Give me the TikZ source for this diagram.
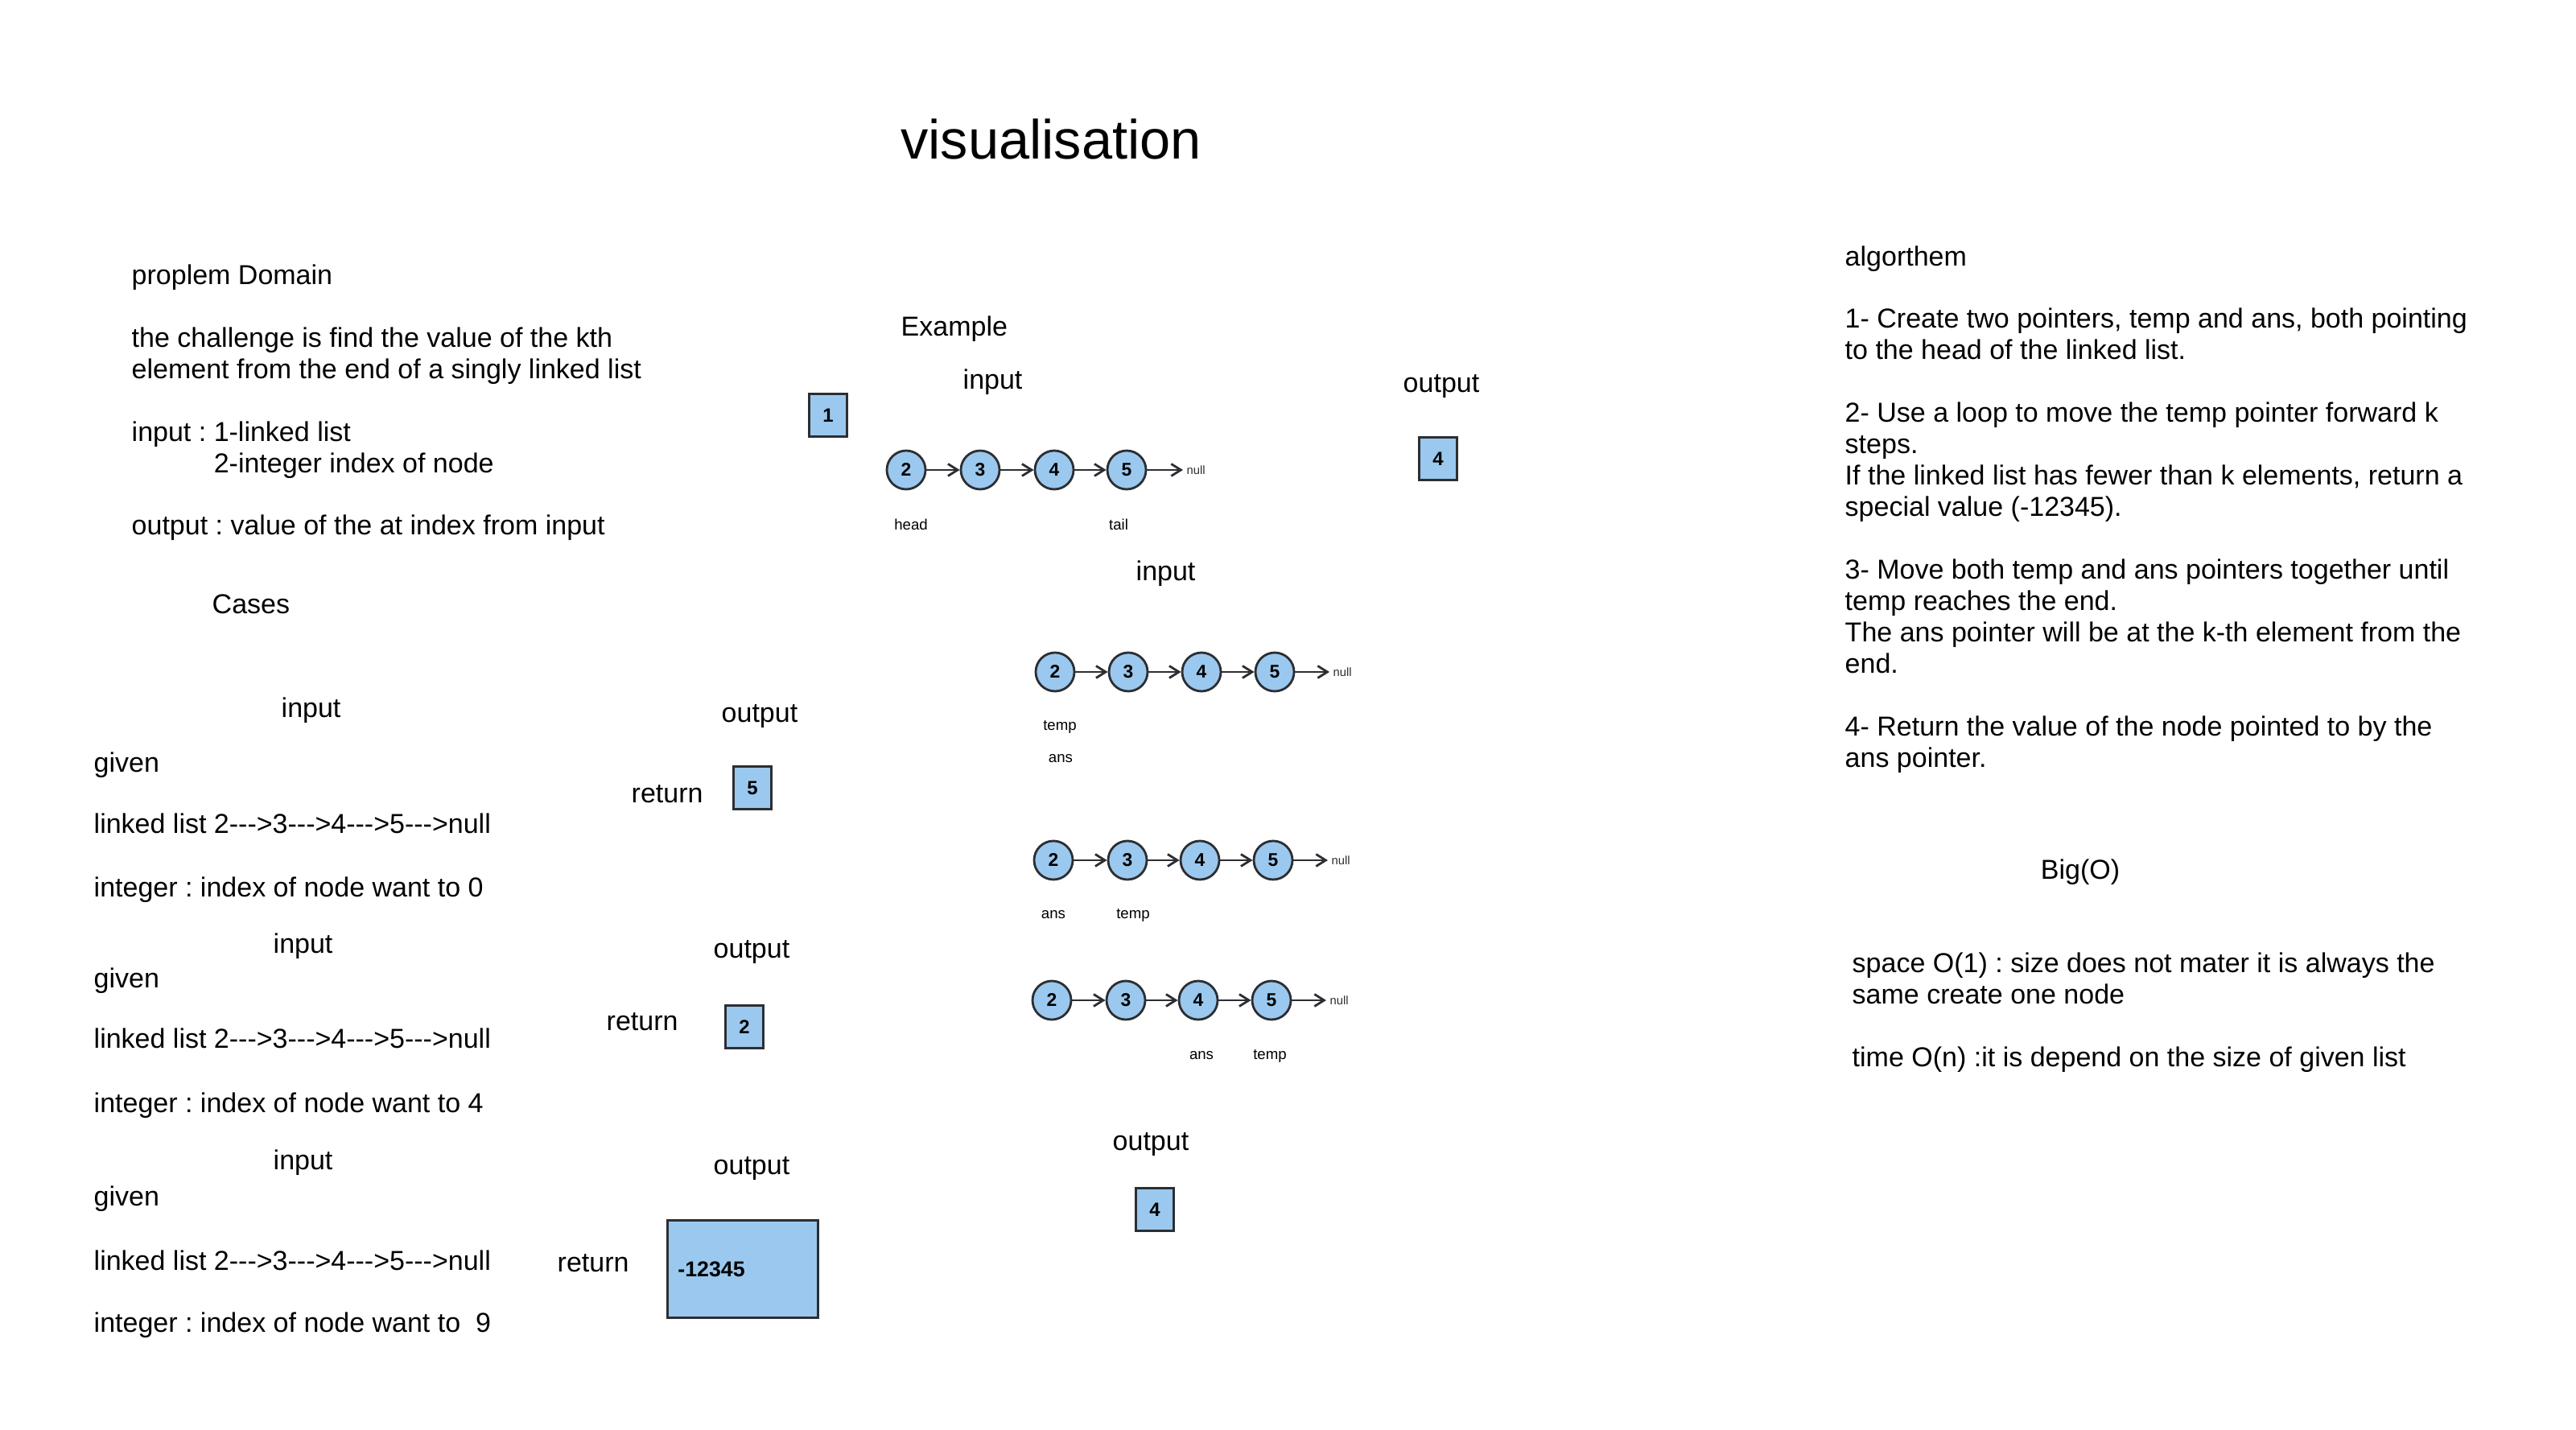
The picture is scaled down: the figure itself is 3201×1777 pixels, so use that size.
\documentclass[tikz,border=0pt]{standalone}
\usepackage{fontspec}
\setmainfont{Liberation Sans}
\usetikzlibrary{positioning,arrows.meta}

\definecolor{nodeblue}{RGB}{155,200,238}
\definecolor{edgegray}{RGB}{44,46,50}

% arrow drawn in the case texts, without TeX dash ligatures
\newcommand{\lnk}{-{}-{}->}

\tikzset{
  txt/.style={anchor=base west, align=left, inner sep=0pt, font=\fontsize{9.67}{11.07}\selectfont},
  cell/.style={circle, draw=edgegray, fill=nodeblue, line width=0.8pt, minimum size=0.48cm, inner sep=0pt, font=\fontsize{6.5}{7}\selectfont\bfseries},
  valbox/.style={draw=edgegray, fill=nodeblue, line width=0.8pt, minimum width=0.47cm, minimum height=0.53cm, inner sep=0pt, font=\fontsize{6.8}{8}\selectfont\bfseries},
  link/.style={->, draw=edgegray, line width=0.8pt},
  tag/.style={inner sep=0pt, font=\fontsize{5.3}{6}\selectfont},
  nul/.style={anchor=west, inner sep=0.04cm, text=edgegray, font=\fontsize{4.2}{5}\selectfont}
}

\begin{document}
\frenchspacing
\begin{tikzpicture}[x=0.01cm, y=-0.01cm, >={Straight Barb[length=1.2mm,width=1.5mm]}]
  \useasboundingbox (0,0) rectangle (3201,1777);

  % Title
  \node[anchor=base, font=\fontsize{19.5}{23}\selectfont] (title) at (1306,198) {visualisation};

  % Problem domain (placed at the baseline of its last line)
  \node[txt] (domain) at (163,665) {proplem Domain\\[11.07pt]
    the challenge is find the value of the kth\\
    element from the end of a singly linked list\\[11.07pt]
    input : 1-linked list\\
    \phantom{input : }2-integer index of node\\[11.07pt]
    output : value of the at index from input};
  \node[txt] (cases) at (263,763) {Cases};

  % Case 1
  \node[txt] (in1) at (349,892) {input};
  \node[txt] (given1) at (116,959) {given};
  \node[txt] (list1) at (116,1035) {linked list 2\lnk3\lnk4\lnk5\lnk null};
  \node[txt] (int1) at (116,1114) {integer : index of node want to 0};
  \node[txt] (out1) at (896,898) {output};
  \node[txt] (ret1) at (784,998) {return};
  \node[valbox] (val1) at (935,979) {5\hspace{0.09cm}};

  % Case 2
  \node[txt] (in2) at (339,1184) {input};
  \node[txt] (given2) at (116,1227) {given};
  \node[txt] (list2) at (116,1302) {linked list 2\lnk3\lnk4\lnk5\lnk null};
  \node[txt] (int2) at (116,1382) {integer : index of node want to 4};
  \node[txt] (out2) at (886,1190) {output};
  \node[txt] (ret2) at (753,1280) {return};
  \node[valbox] (val2) at (925,1276) {2\hspace{0.09cm}};

  % Case 3
  \node[txt] (in3) at (339,1453) {input};
  \node[txt] (given3) at (116,1498) {given};
  \node[txt] (list3) at (116,1578) {linked list 2\lnk3\lnk4\lnk5\lnk null};
  \node[txt] (int3) at (116,1655) {integer : index of node want to\ \ 9};
  \node[txt] (out3) at (886,1459) {output};
  \node[txt] (ret3) at (692,1580) {return};
  \node[valbox, minimum width=1.87cm, minimum height=1.21cm, text width=1.61cm, align=left, font=\fontsize{7.6}{9}\selectfont\bfseries] (val3) at (923,1577) {-12345};

  % Example
  \node[txt] (example) at (1119,418) {Example};
  \node[valbox] (kval) at (1029,516) {1\hspace{0.09cm}};
  \node[txt] (exin) at (1196,484) {input};
  \node[txt] (exout) at (1743,488) {output};
  \node[valbox] (exres) at (1787,570) {4\hspace{0.09cm}};

  \node[cell] (e2) at (1126,584) {2\hspace{0.12cm}};
  \node[cell] (e3) at (1218,584) {3\hspace{0.12cm}};
  \node[cell] (e4) at (1310,584) {4\hspace{0.12cm}};
  \node[cell] (e5) at (1400,584) {5\hspace{0.12cm}};
  \coordinate (enull) at (1470,584);
  \draw[link] (e2) -- (e3);
  \draw[link] (e3) -- (e4);
  \draw[link] (e4) -- (e5);
  \draw[link] (e5) -- (enull);
  \node[nul] (enulltxt) at (enull) {null};
  \node[tag] (head) at (1132,652) {head};
  \node[tag] (tail) at (1390,652) {tail};

  % Steps
  \node[txt] (stepin) at (1411,722) {input};

  % both at head
  \node[cell] (p2) at (1311,835) {2\hspace{0.12cm}};
  \node[cell] (p3) at (1402,835) {3\hspace{0.12cm}};
  \node[cell] (p4) at (1493,835) {4\hspace{0.12cm}};
  \node[cell] (p5) at (1584,835) {5\hspace{0.12cm}};
  \coordinate (pnull) at (1652,835);
  \draw[link] (p2) -- (p3);
  \draw[link] (p3) -- (p4);
  \draw[link] (p4) -- (p5);
  \draw[link] (p5) -- (pnull);
  \node[nul] (pnulltxt) at (pnull) {null};
  \node[tag] (ptemp) at (1317,903) {temp};
  \node[tag] (pans) at (1318,943) {ans};

  % temp moved k steps
  \node[cell] (q2) at (1309,1069) {2\hspace{0.12cm}};
  \node[cell] (q3) at (1401,1069) {3\hspace{0.12cm}};
  \node[cell] (q4) at (1491,1069) {4\hspace{0.12cm}};
  \node[cell] (q5) at (1582,1069) {5\hspace{0.12cm}};
  \coordinate (qnull) at (1650,1069);
  \draw[link] (q2) -- (q3);
  \draw[link] (q3) -- (q4);
  \draw[link] (q4) -- (q5);
  \draw[link] (q5) -- (qnull);
  \node[nul] (qnulltxt) at (qnull) {null};
  \node[tag] (qans) at (1309,1137) {ans};
  \node[tag] (qtemp) at (1408,1137) {temp};

  % temp at the end
  \node[cell] (r2) at (1307,1243) {2\hspace{0.12cm}};
  \node[cell] (r3) at (1399,1243) {3\hspace{0.12cm}};
  \node[cell] (r4) at (1489,1243) {4\hspace{0.12cm}};
  \node[cell] (r5) at (1580,1243) {5\hspace{0.12cm}};
  \coordinate (rnull) at (1648,1243);
  \draw[link] (r2) -- (r3);
  \draw[link] (r3) -- (r4);
  \draw[link] (r4) -- (r5);
  \draw[link] (r5) -- (rnull);
  \node[nul] (rnulltxt) at (rnull) {null};
  \node[tag] (rans) at (1493,1312) {ans};
  \node[tag] (rtemp) at (1578,1312) {temp};

  \node[txt] (stepout) at (1382,1429) {output};
  \node[valbox] (stepres) at (1435,1503) {4\hspace{0.09cm}};

  % Algorithm (placed at the baseline of its last line)
  \node[txt] (algo) at (2292,953) {algorthem\\[11.07pt]
    1- Create two pointers, temp and ans, both pointing\\
    to the head of the linked list.\\[11.07pt]
    2- Use a loop to move the temp pointer forward k\\
    steps.\\
    If the linked list has fewer than k elements, return a\\
    special value (-12345).\\[11.07pt]
    3- Move both temp and ans pointers together until\\
    temp reaches the end.\\
    The ans pointer will be at the k-th element from the\\
    end.\\[11.07pt]
    4- Return the value of the node pointed to by the\\
    ans pointer.};

  % Big O
  \node[anchor=base, inner sep=0pt, font=\fontsize{9.67}{11.07}\selectfont] (bigo) at (2585,1092) {Big(O)};
  \node[txt] (cost) at (2301,1325) {space O(1) : size does not mater it is always the\\
    same create one node\\[11.07pt]
    time O(n) :it is depend on the size of given list};
\end{tikzpicture}
\end{document}
